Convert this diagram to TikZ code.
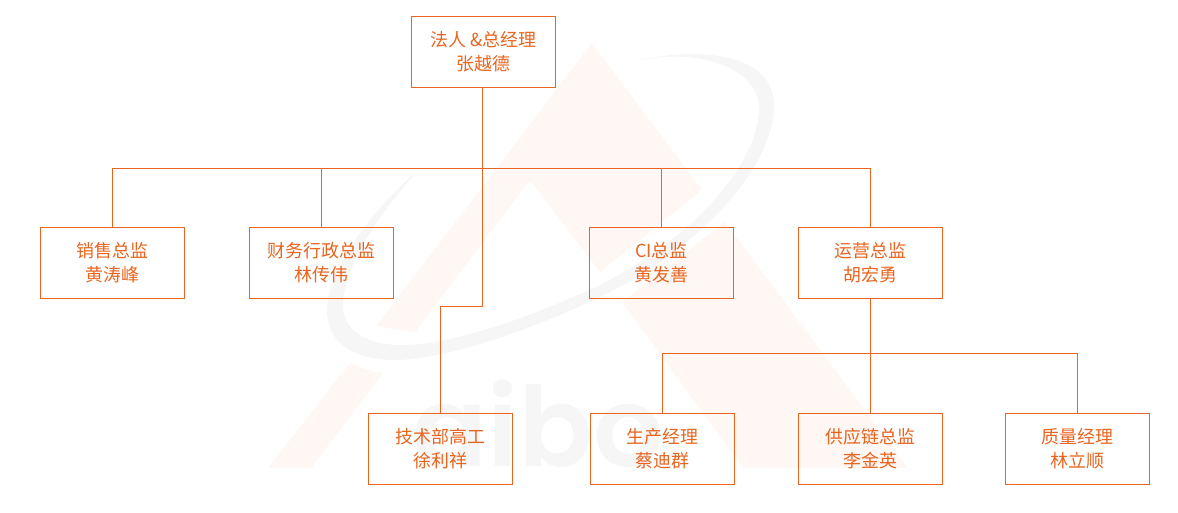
\documentclass[tikz,border=0pt]{standalone}
\usepackage{fontspec}
\setmainfont{Noto Sans CJK SC}
\newfontfamily\logofont{Poppins SemiBold}
\definecolor{lineorange}{HTML}{E8641F}
\definecolor{markorange}{HTML}{FEF7F3}
\definecolor{markgray}{HTML}{F6F6F6}
\tikzset{
	staffbox/.style={draw=lineorange,line width=0.57pt,minimum width=81.64pt,minimum height=40.25pt,inner sep=0pt,align=center,text=lineorange,font=\fontsize{10.2}{13.6}\selectfont},
	staffline/.style={draw=lineorange,line width=0.57pt}
}
\begin{document}
\begin{tikzpicture}[x=0.02cm,y=-0.02cm]
\useasboundingbox (0,0) rectangle (1178,513);

%Background Mark
\fill [markorange] (592,43) -- (702,190) -- (600,272) -- (530,180) -- (415,332) .. controls (402,331) and (389,329) .. (377,325) -- cycle;
\fill [markorange] (350,363) .. controls (360,368) and (371,371) .. (383,373) -- (311,468) -- (268,468) -- cycle;
\fill [markorange] (725,222) -- (908,468) -- (743,468) -- (622,302) -- cycle;
\fill [markgray] (632,62) .. controls (665,52) and (775,40) .. (774,107) .. controls (774,165) and (700,250) .. (600,297) .. controls (520,335) and (440,360) .. (395,360) .. controls (350,360) and (327,340) .. (327,310) .. controls (327,270) and (375,205) .. (420,169) .. controls (385,205) and (343,265) .. (343,305) .. controls (343,330) and (365,345) .. (402,345) .. controls (450,345) and (530,318) .. (600,285) .. controls (690,240) and (759,165) .. (759,108) .. controls (759,70) and (700,45) .. (632,62) -- cycle;
\node (logotext) [text=markgray,font=\logofont\fontsize{63}{63}\selectfont,anchor=base,inner sep=0pt] at (538,467) {aibo};

%Boxes
\node (ceo) [staffbox] at (483.5,52) {法人 \&总经理\\张越德};
\node (sales) [staffbox] at (112.5,263) {销售总监\\黄涛峰};
\node (finance) [staffbox] at (321.5,263) {财务行政总监\\林传伟};
\node (ci) [staffbox] at (661.5,263) {CI总监\\黄发善};
\node (ops) [staffbox] at (870.5,263) {运营总监\\胡宏勇};
\node (tech) [staffbox] at (440.5,449) {技术部高工\\徐利祥};
\node (prod) [staffbox] at (662.5,449) {生产经理\\蔡迪群};
\node (supply) [staffbox] at (870.5,449) {供应链总监\\李金英};
\node (quality) [staffbox] at (1077.5,449) {质量经理\\林立顺};

%Connectors
\coordinate (topbus) at (482.5,168.5);
\coordinate (techbend) at (482.5,306.5);
\coordinate (opsbus) at (870.5,353.5);
\draw [staffline] (ceo.south -| topbus) -- (techbend) -| (tech.north);
\draw [staffline] (sales.north) |- (topbus) -| (ops.north);
\draw [staffline] (finance.north) -- (finance.north |- topbus);
\draw [staffline] (ci.north) -- (ci.north |- topbus);
\draw [staffline] (ops.south) -- (supply.north);
\draw [staffline] (prod.north) |- (opsbus) -| (quality.north);
\end{tikzpicture}
\end{document}
